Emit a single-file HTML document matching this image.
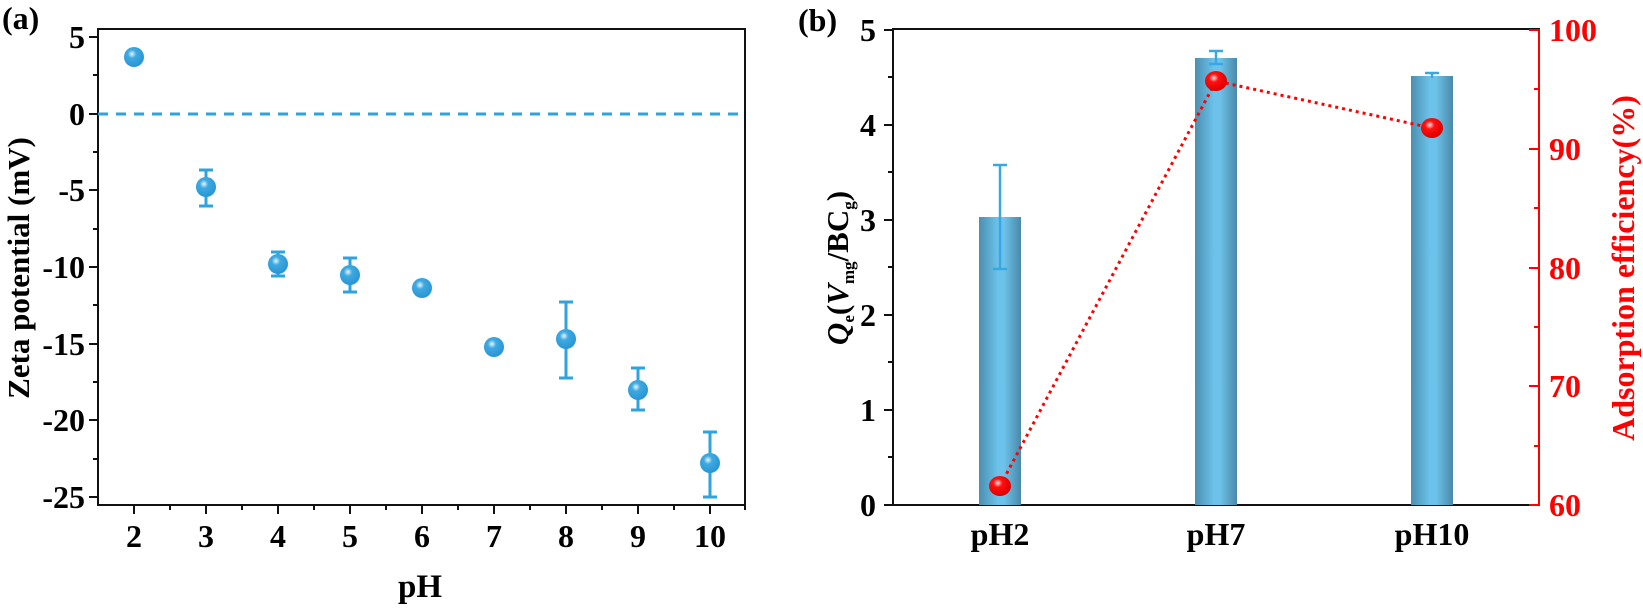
<!DOCTYPE html>
<html><head><meta charset="utf-8"><style>
html,body{margin:0;padding:0;background:#fff;}
svg{display:block;font-family:"Liberation Serif",serif;font-weight:bold;}
</style></head><body>
<svg width="1643" height="610" viewBox="0 0 1643 610" xmlns="http://www.w3.org/2000/svg">
<defs>
<linearGradient id="bar" x1="0" x2="1" y1="0" y2="0">
<stop offset="0" stop-color="#4b8fb0"/><stop offset="0.45" stop-color="#6cc2ea"/><stop offset="0.6" stop-color="#6cc2ea"/><stop offset="1" stop-color="#4a88a8"/>
</linearGradient>
<radialGradient id="bp" cx="0.4" cy="0.35" r="0.6"><stop offset="0" stop-color="#e8f6fd"/><stop offset="0.35" stop-color="#3fa9e0"/><stop offset="1" stop-color="#2a98d6"/></radialGradient>
<radialGradient id="rp" cx="0.4" cy="0.35" r="0.6"><stop offset="0" stop-color="#ffe0e0"/><stop offset="0.35" stop-color="#ff1010"/><stop offset="1" stop-color="#e00000"/></radialGradient>
</defs>

<!-- Panel a -->
<text x="2" y="29" font-size="32">(a)</text>
<rect x="98" y="29" width="647" height="476" fill="none" stroke="#111" stroke-width="2"/>
<line x1="98" y1="114" x2="745" y2="114" stroke="#2ea3dd" stroke-width="3" stroke-dasharray="10,8"/>
<g stroke="#111" stroke-width="2">
<line x1="89" y1="37" x2="98" y2="37"/><line x1="89" y1="114" x2="98" y2="114"/><line x1="89" y1="190" x2="98" y2="190"/><line x1="89" y1="267" x2="98" y2="267"/><line x1="89" y1="344" x2="98" y2="344"/><line x1="89" y1="420" x2="98" y2="420"/><line x1="89" y1="497" x2="98" y2="497"/>
<line x1="93" y1="75" x2="98" y2="75"/><line x1="93" y1="152" x2="98" y2="152"/><line x1="93" y1="229" x2="98" y2="229"/><line x1="93" y1="305" x2="98" y2="305"/><line x1="93" y1="382" x2="98" y2="382"/><line x1="93" y1="459" x2="98" y2="459"/>
<line x1="134" y1="505" x2="134" y2="514"/><line x1="206" y1="505" x2="206" y2="514"/><line x1="278" y1="505" x2="278" y2="514"/><line x1="350" y1="505" x2="350" y2="514"/><line x1="422" y1="505" x2="422" y2="514"/><line x1="494" y1="505" x2="494" y2="514"/><line x1="566" y1="505" x2="566" y2="514"/><line x1="638" y1="505" x2="638" y2="514"/><line x1="710" y1="505" x2="710" y2="514"/>
<line x1="170" y1="505" x2="170" y2="510"/><line x1="242" y1="505" x2="242" y2="510"/><line x1="314" y1="505" x2="314" y2="510"/><line x1="386" y1="505" x2="386" y2="510"/><line x1="458" y1="505" x2="458" y2="510"/><line x1="530" y1="505" x2="530" y2="510"/><line x1="602" y1="505" x2="602" y2="510"/><line x1="674" y1="505" x2="674" y2="510"/><line x1="745" y1="505" x2="745" y2="510"/>
</g>
<g font-size="32" text-anchor="end">
<text x="85" y="48">5</text><text x="85" y="125">0</text><text x="85" y="201">-5</text><text x="85" y="278">-10</text><text x="85" y="355">-15</text><text x="85" y="431">-20</text><text x="85" y="508">-25</text>
</g>
<g font-size="32" text-anchor="middle">
<text x="134" y="547">2</text><text x="206" y="547">3</text><text x="278" y="547">4</text><text x="350" y="547">5</text><text x="422" y="547">6</text><text x="494" y="547">7</text><text x="566" y="547">8</text><text x="638" y="547">9</text><text x="710" y="547">10</text>
</g>
<text x="420" y="597" font-size="33" text-anchor="middle">pH</text>
<text transform="translate(29,268) rotate(-90)" font-size="31" text-anchor="middle">Zeta potential (mV)</text>
<g stroke="#2ea3dd" stroke-width="3">
<line x1="134" y1="52" x2="134" y2="61"/><line x1="128" y1="52" x2="140" y2="52"/><line x1="128" y1="61" x2="140" y2="61"/>
<line x1="206" y1="170" x2="206" y2="206"/><line x1="199" y1="170" x2="213" y2="170"/><line x1="199" y1="206" x2="213" y2="206"/>
<line x1="278" y1="252" x2="278" y2="276"/><line x1="271" y1="252" x2="285" y2="252"/><line x1="271" y1="276" x2="285" y2="276"/>
<line x1="350" y1="258" x2="350" y2="292"/><line x1="343" y1="258" x2="357" y2="258"/><line x1="343" y1="292" x2="357" y2="292"/>
<line x1="422" y1="284" x2="422" y2="292"/><line x1="416" y1="284" x2="428" y2="284"/><line x1="416" y1="292" x2="428" y2="292"/>
<line x1="566" y1="302" x2="566" y2="378"/><line x1="559" y1="302" x2="573" y2="302"/><line x1="559" y1="378" x2="573" y2="378"/>
<line x1="638" y1="368" x2="638" y2="410"/><line x1="631" y1="368" x2="645" y2="368"/><line x1="631" y1="410" x2="645" y2="410"/>
<line x1="710" y1="432" x2="710" y2="497"/><line x1="703" y1="432" x2="717" y2="432"/><line x1="703" y1="497" x2="717" y2="497"/>
</g>
<g fill="url(#bp)">
<circle cx="134" cy="57" r="10"/><circle cx="206" cy="187" r="10"/><circle cx="278" cy="264" r="10"/><circle cx="350" cy="275" r="10"/><circle cx="422" cy="288" r="10"/><circle cx="494" cy="347" r="10"/><circle cx="566" cy="339" r="10"/><circle cx="638" cy="390" r="10"/><circle cx="710" cy="463" r="10"/>
</g>

<!-- Panel b -->
<text x="798" y="31" font-size="32">(b)</text>
<rect x="893" y="29" width="646" height="476" fill="none" stroke="#111" stroke-width="2"/>
<line x1="1539" y1="29" x2="1539" y2="506" stroke="#ff0000" stroke-width="2"/>
<g stroke="#111" stroke-width="2">
<line x1="884" y1="30" x2="893" y2="30"/><line x1="884" y1="125" x2="893" y2="125"/><line x1="884" y1="220" x2="893" y2="220"/><line x1="884" y1="315" x2="893" y2="315"/><line x1="884" y1="410" x2="893" y2="410"/><line x1="884" y1="505" x2="893" y2="505"/>
<line x1="888" y1="77" x2="893" y2="77"/><line x1="888" y1="172" x2="893" y2="172"/><line x1="888" y1="267" x2="893" y2="267"/><line x1="888" y1="362" x2="893" y2="362"/><line x1="888" y1="457" x2="893" y2="457"/>
</g>
<g stroke="#ff0000" stroke-width="2">
<line x1="1529" y1="30" x2="1539" y2="30"/><line x1="1529" y1="149" x2="1539" y2="149"/><line x1="1529" y1="268" x2="1539" y2="268"/><line x1="1529" y1="386" x2="1539" y2="386"/><line x1="1529" y1="505" x2="1539" y2="505"/>
<line x1="1534" y1="89" x2="1539" y2="89"/><line x1="1534" y1="208" x2="1539" y2="208"/><line x1="1534" y1="327" x2="1539" y2="327"/><line x1="1534" y1="446" x2="1539" y2="446"/>
</g>
<g font-size="32" text-anchor="end">
<text x="876" y="41">5</text><text x="876" y="136">4</text><text x="876" y="231">3</text><text x="876" y="326">2</text><text x="876" y="421">1</text><text x="876" y="516">0</text>
</g>
<g font-size="32" fill="#ff0000">
<text x="1549" y="41">100</text><text x="1549" y="160">90</text><text x="1549" y="279">80</text><text x="1549" y="397">70</text><text x="1549" y="516">60</text>
</g>
<g font-size="32" text-anchor="middle">
<text x="1000" y="545">pH2</text><text x="1216" y="545">pH7</text><text x="1432" y="545">pH10</text>
</g>
<text transform="translate(848,268) rotate(-90)" font-size="31" text-anchor="middle"><tspan font-style="italic">Q</tspan><tspan font-size="17" dy="6">e</tspan><tspan dy="-6">(</tspan><tspan font-style="italic">V</tspan><tspan font-size="17" dy="6">mg</tspan><tspan dy="-6">/BC</tspan><tspan font-size="17" dy="6">g</tspan><tspan dy="-6">)</tspan></text>
<text transform="translate(1634,268) rotate(-90)" font-size="32" fill="#ff0000" text-anchor="middle">Adsorption efficiency(%)</text>
<rect x="979" y="217" width="42" height="288" fill="url(#bar)"/>
<rect x="1195" y="58" width="42" height="447" fill="url(#bar)"/>
<rect x="1411" y="76" width="42" height="429" fill="url(#bar)"/>
<g stroke="#3aa8e0" stroke-width="2.5">
<line x1="1000" y1="165" x2="1000" y2="269"/><line x1="993" y1="165" x2="1007" y2="165"/><line x1="993" y1="269" x2="1007" y2="269"/>
<line x1="1216" y1="51" x2="1216" y2="64"/><line x1="1209" y1="51" x2="1223" y2="51"/><line x1="1209" y1="64" x2="1223" y2="64"/>
<line x1="1432" y1="73" x2="1432" y2="78"/><line x1="1425" y1="73" x2="1439" y2="73"/>
</g>
<polyline points="1000,486 1216,81 1432,128" fill="none" stroke="#ff0000" stroke-width="3" stroke-dasharray="3,4"/>
<g fill="url(#rp)">
<ellipse cx="1000" cy="486" rx="11" ry="10"/><ellipse cx="1216" cy="81" rx="11" ry="10"/><ellipse cx="1432" cy="128" rx="11" ry="10"/>
</g>
</svg>
</body></html>
